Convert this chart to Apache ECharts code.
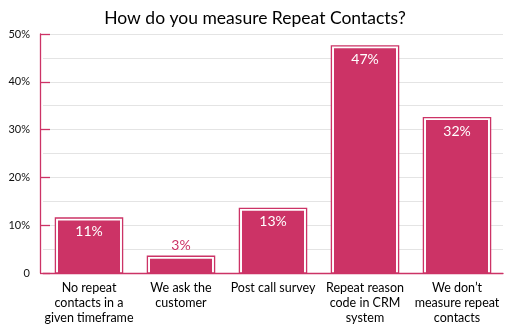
<!DOCTYPE html>
<html><head><meta charset="utf-8">
<script src="https://cdn.jsdelivr.net/npm/echarts@6/dist/echarts.min.js"></script>
<style>html,body{margin:0;padding:0;background:#fff}#c{width:510px;height:325px}</style>
</head><body><div id="c"></div>
<script>
const categories = ["No repeat\ncontacts in a\ngiven timeframe", "We ask the\ncustomer", "Post call survey", "Repeat reason\ncode in CRM\nsystem", "We don\u2019t\nmeasure repeat\ncontacts"];
const values = [11, 3, 13, 47, 32];
const yTicks = [0, 10, 20, 30, 40, 50];

const PINK = '#CC3366';
const FONT = 'Lato';
const chart = echarts.init(document.getElementById('c'));
chart.setOption({
  animation: false,
  title: { text: 'How do you measure Repeat Contacts?', left: 'center', top: 4,
    textStyle: { fontFamily: FONT, fontSize: 17.5, fontWeight: 'normal', color: '#000' } },
  grid: { left: 43, right: 7, top: 34, bottom: 51 },
  xAxis: { type: 'category', data: categories,
    axisLine: { lineStyle: { color: PINK, width: 1.3 } }, axisTick: { show: false },
    axisLabel: { fontFamily: FONT, fontSize: 12.5, color: '#000', lineHeight: 15, margin: 7, interval: 0 } },
  yAxis: { type: 'value', min: yTicks[0], max: yTicks[yTicks.length-1], interval: 10, offset: 3,
    axisLine: { show: true, lineStyle: { color: PINK, width: 1.3 } },
    axisTick: { show: true, inside: true, length: 10, lineStyle: { color: PINK, width: 1.3 } },
    splitLine: { lineStyle: { color: '#e4e4e4' } },
    minorTick: { show: false, splitNumber: 2 },
    minorSplitLine: { show: true, lineStyle: { color: '#e4e4e4' } },
    axisLabel: { fontFamily: FONT, fontSize: 11, color: '#111', margin: 10,
      formatter: v => v === 0 ? '0' : v + '%' } },
  series: [{
    type: 'custom',
    data: values.map((v, i) => [i, v]),
    encode: { x: 0, y: 1 },
    renderItem: (params, api) => {
      const v = api.value(1);
      const top = api.coord([api.value(0), v]);
      const base = api.coord([api.value(0), 0]);
      const bw = api.size([1, 0])[0] * 0.674;
      const x = top[0] - bw / 2;
      const h = base[1] - top[1];
      const inside = v >= 8;
      return { type: 'group', children: [
        { type: 'rect', shape: { x: x - 2.6, y: top[1] - 2.4, width: bw + 5.2, height: h + 2.4 },
          style: { fill: '#fff', stroke: PINK, lineWidth: 1.3 } },
        { type: 'rect', shape: { x: x, y: top[1], width: bw, height: h }, style: { fill: PINK } },
        { type: 'text', style: { text: v + '%', x: top[0], y: inside ? top[1] + 11 : top[1] - 13,
          align: 'center', verticalAlign: 'middle', fill: inside ? '#fff' : PINK,
          font: '14px ' + FONT } }
      ]};
    }
  }]
});
</script></body></html>
